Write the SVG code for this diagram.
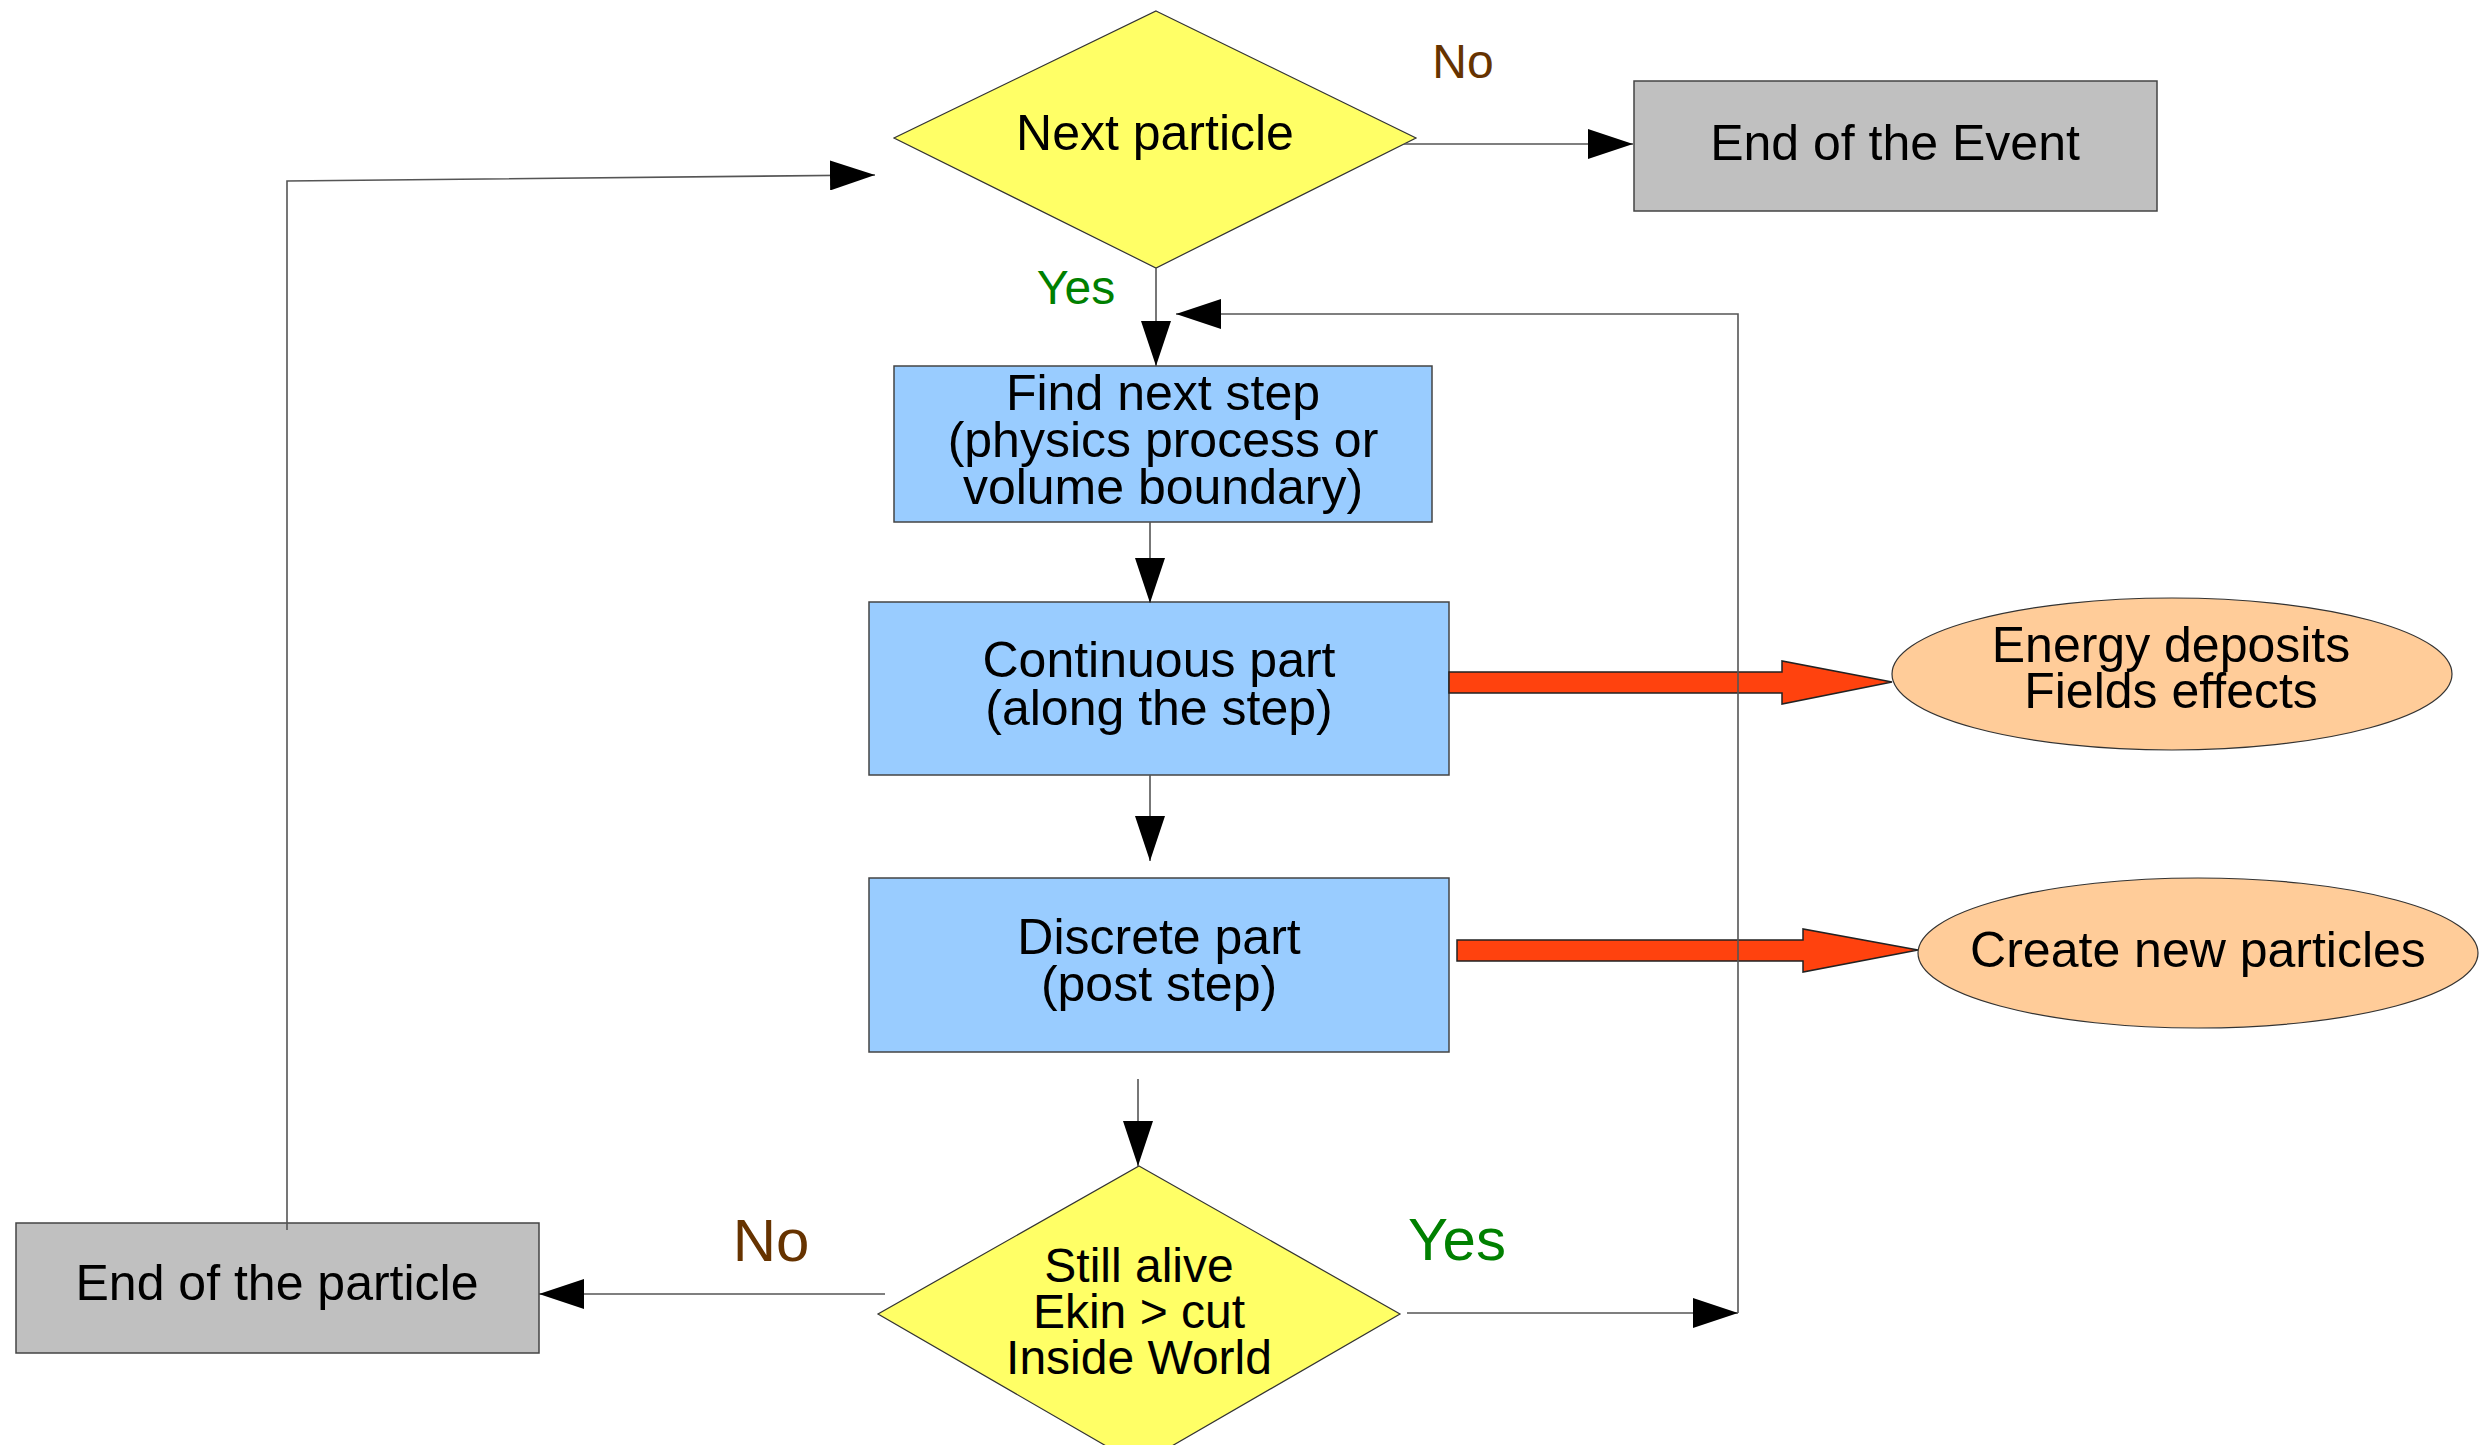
<svg xmlns="http://www.w3.org/2000/svg" width="2490" height="1445" viewBox="0 0 2490 1445">
<defs>
<style>
.t{font-family:"Liberation Sans",Arial,sans-serif;font-size:50px;fill:#000;text-anchor:middle}
.t48{font-size:48px}
.yes{fill:#008000}
.no{fill:#663300}
.box{stroke:#444;stroke-width:1.5}
.blue{fill:#99ccff}
.gray{fill:#c0c0c0}
.yel{fill:#ffff66;stroke:#333;stroke-width:1.2}
.ell{fill:#ffcc99;stroke:#333;stroke-width:1.2}
.ln{fill:none;stroke:#555;stroke-width:1.6}
.red{fill:#ff420e;stroke:#222;stroke-width:1.5}
</style>
<marker id="ah" markerUnits="userSpaceOnUse" markerWidth="46" markerHeight="30" refX="45" refY="15" orient="auto">
<path d="M0,0 L45,15 L0,30 z" fill="#000"/>
</marker>
</defs>
<rect width="2490" height="1445" fill="#fff"/>

<g id="next-particle">
<polygon class="yel" points="1156,11 1416,138 1156,268 894,138"/>
<text class="t" x="1155" y="150">Next particle</text>
</g>
<g id="end-event">
<rect class="box gray" x="1634" y="81" width="523" height="130"/>
<text class="t" x="1895" y="160">End of the Event</text>
</g>
<g id="find-next-step">
<rect class="box blue" x="894" y="366" width="538" height="156"/>
<text class="t" x="1163" y="410">Find next step</text>
<text class="t" x="1163" y="457">(physics process or</text>
<text class="t" x="1163" y="504">volume boundary)</text>
</g>
<g id="continuous">
<rect class="box blue" x="869" y="602" width="580" height="173"/>
<text class="t" x="1159" y="677">Continuous part</text>
<text class="t" x="1159" y="725">(along the step)</text>
</g>
<g id="discrete">
<rect class="box blue" x="869" y="878" width="580" height="174"/>
<text class="t" x="1159" y="954">Discrete part</text>
<text class="t" x="1159" y="1001">(post step)</text>
</g>
<g id="energy">
<ellipse class="ell" cx="2172" cy="674" rx="280" ry="76"/>
<text class="t" x="2171" y="662">Energy deposits</text>
<text class="t" x="2171" y="708">Fields effects</text>
</g>
<g id="create">
<ellipse class="ell" cx="2198" cy="953" rx="280" ry="75"/>
<text class="t" x="2198" y="967">Create new particles</text>
</g>
<g id="still-alive">
<polygon class="yel" points="1139,1166 1400,1314 1139,1465 878,1314"/>
<text class="t t48" x="1139" y="1282">Still alive</text>
<text class="t t48" x="1139" y="1328">Ekin &gt; cut</text>
<text class="t t48" x="1139" y="1374">Inside World</text>
</g>
<g id="end-particle">
<rect class="box gray" x="16" y="1223" width="523" height="130"/>
<text class="t" x="277" y="1300">End of the particle</text>
</g>

<g id="connectors">
<polygon class="red" points="1449,672 1782,672 1782,661 1892,682 1782,704 1782,693 1449,693"/>
<polygon class="red" points="1457,940 1803,940 1803,929 1918,950 1803,972 1803,961 1457,961"/>
<path class="ln" d="M1404,144 H1633" marker-end="url(#ah)"/>
<path class="ln" d="M1156,268 V366" marker-end="url(#ah)"/>
<path class="ln" d="M1150,522 V603" marker-end="url(#ah)"/>
<path class="ln" d="M1150,775 V861" marker-end="url(#ah)"/>
<path class="ln" d="M1138,1079 V1166" marker-end="url(#ah)"/>
<path class="ln" d="M1407,1313 H1738" marker-end="url(#ah)"/>
<path class="ln" d="M1738,1313 V314 H1176" marker-end="url(#ah)"/>
<path class="ln" d="M885,1294 H539" marker-end="url(#ah)"/>
<path class="ln" d="M287,1230 V181 L875,175" marker-end="url(#ah)"/>
<text class="t no" x="1463" y="78" style="font-size:48px">No</text>
<text class="t yes" x="1076" y="304" style="font-size:48px">Yes</text>
<text class="t yes" x="1457" y="1260" style="font-size:60px">Yes</text>
<text class="t no" x="771" y="1261" style="font-size:60px">No</text>
</g>
</svg>
